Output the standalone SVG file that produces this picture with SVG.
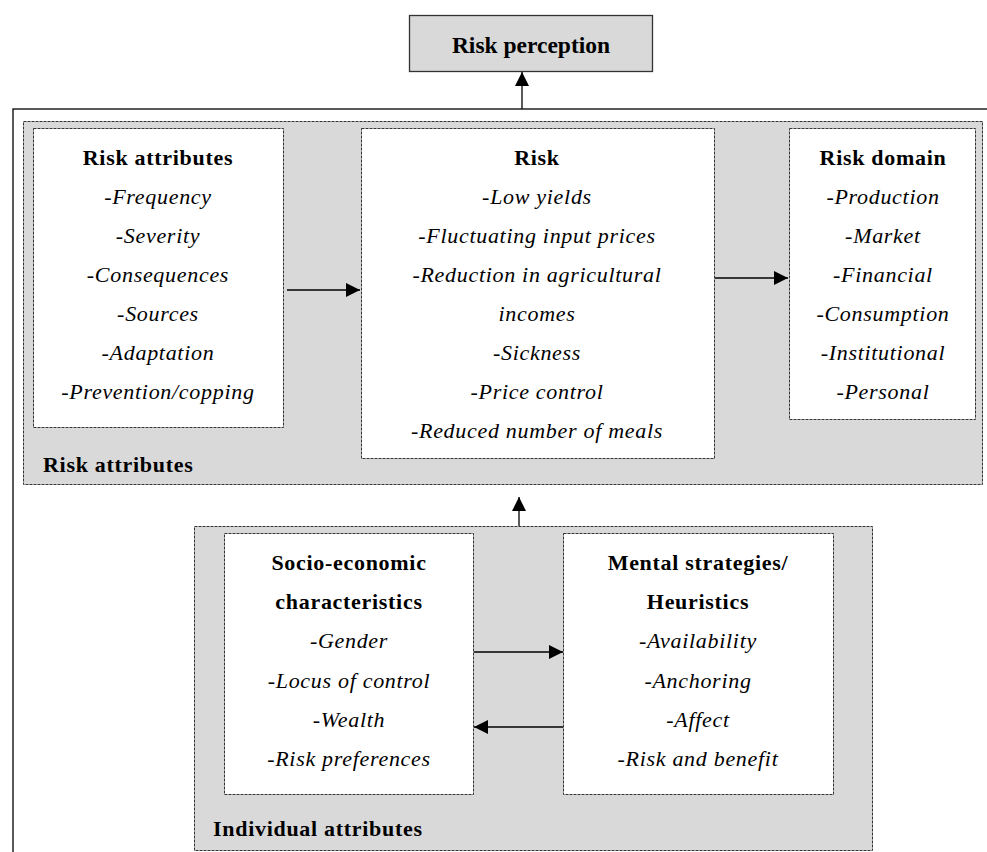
<svg xmlns="http://www.w3.org/2000/svg" width="987" height="852" viewBox="0 0 987 852">
<defs>
<marker id="ah" markerWidth="14" markerHeight="14" refX="14" refY="7" orient="auto" markerUnits="userSpaceOnUse">
<path d="M0,0 L14,7 L0,14 Z" fill="#000"/>
</marker>
<style>
.grp{fill:#d9d9d9;stroke:#333;stroke-width:1;stroke-dasharray:3,1}
.box{fill:#fff;stroke:#333;stroke-width:1;stroke-dasharray:3,1}
.t{font-family:"Liberation Serif","Times New Roman",serif;font-size:22px;letter-spacing:0.7px;text-anchor:middle;fill:#000}
.b{font-weight:bold}
.i{font-style:italic}
.lab{font-family:"Liberation Serif","Times New Roman",serif;font-size:22px;letter-spacing:0.7px;font-weight:bold;fill:#000}
.c{stroke:#000;stroke-width:1.3;fill:none}
</style>
</defs>
<rect width="987" height="852" fill="#fff"/>
<rect x="13" y="109" width="990" height="760" fill="none" stroke="#000" stroke-width="1.3"/>
<g id="risk-attributes-group">
<rect class="grp" x="23.5" y="121.5" width="959" height="363"/>
<text class="lab" x="43" y="472">Risk attributes</text>
</g>
<g id="individual-attributes-group">
<rect class="grp" x="194.5" y="526.5" width="678" height="324"/>
<text class="lab" x="213" y="836">Individual attributes</text>
</g>
<g id="risk-perception">
<rect x="409.5" y="15.5" width="243" height="56" fill="#d9d9d9" stroke="#333" stroke-width="1.3"/>
<text class="t b" x="531" y="53" style="font-size:23.5px;letter-spacing:0">Risk perception</text>
</g>
<g id="risk-attributes">
<rect class="box" x="33.5" y="128.5" width="250" height="299"/>
<text class="t b" x="158" y="165">Risk attributes</text>
<text class="t i" x="158" y="204">-Frequency</text>
<text class="t i" x="158" y="243">-Severity</text>
<text class="t i" x="158" y="282">-Consequences</text>
<text class="t i" x="158" y="321">-Sources</text>
<text class="t i" x="158" y="360">-Adaptation</text>
<text class="t i" x="158" y="399">-Prevention/copping</text>
</g>
<g id="risk">
<rect class="box" x="361.5" y="128.5" width="353" height="330"/>
<text class="t b" x="537" y="165">Risk</text>
<text class="t i" x="537" y="204">-Low yields</text>
<text class="t i" x="537" y="243">-Fluctuating input prices</text>
<text class="t i" x="537" y="282">-Reduction in agricultural</text>
<text class="t i" x="537" y="321">incomes</text>
<text class="t i" x="537" y="360">-Sickness</text>
<text class="t i" x="537" y="399">-Price control</text>
<text class="t i" x="537" y="438">-Reduced number of meals</text>
</g>
<g id="risk-domain">
<rect class="box" x="789.5" y="128.5" width="186" height="291"/>
<text class="t b" x="883" y="165">Risk domain</text>
<text class="t i" x="883" y="204">-Production</text>
<text class="t i" x="883" y="243">-Market</text>
<text class="t i" x="883" y="282">-Financial</text>
<text class="t i" x="883" y="321">-Consumption</text>
<text class="t i" x="883" y="360">-Institutional</text>
<text class="t i" x="883" y="399">-Personal</text>
</g>
<g id="socio-economic">
<rect class="box" x="224.5" y="533.5" width="249" height="261"/>
<text class="t b" x="349" y="570">Socio-economic</text>
<text class="t b" x="349" y="609">characteristics</text>
<text class="t i" x="349" y="648">-Gender</text>
<text class="t i" x="349" y="688">-Locus of control</text>
<text class="t i" x="349" y="727">-Wealth</text>
<text class="t i" x="349" y="766">-Risk preferences</text>
</g>
<g id="mental-strategies">
<rect class="box" x="563.5" y="533.5" width="270" height="261"/>
<text class="t b" x="698" y="570">Mental strategies/</text>
<text class="t b" x="698" y="609">Heuristics</text>
<text class="t i" x="698" y="648">-Availability</text>
<text class="t i" x="698" y="688">-Anchoring</text>
<text class="t i" x="698" y="727">-Affect</text>
<text class="t i" x="698" y="766">-Risk and benefit</text>
</g>
<g id="connectors">
<line class="c" x1="522" y1="109" x2="522" y2="72" marker-end="url(#ah)"/>
<line class="c" x1="287" y1="290" x2="360" y2="290" marker-end="url(#ah)"/>
<line class="c" x1="715" y1="278" x2="788" y2="278" marker-end="url(#ah)"/>
<line class="c" x1="519" y1="526" x2="519" y2="497" marker-end="url(#ah)"/>
<line class="c" x1="474" y1="652" x2="563" y2="652" marker-end="url(#ah)"/>
<line class="c" x1="563" y1="727" x2="474" y2="727" marker-end="url(#ah)"/>
</g>
</svg>
